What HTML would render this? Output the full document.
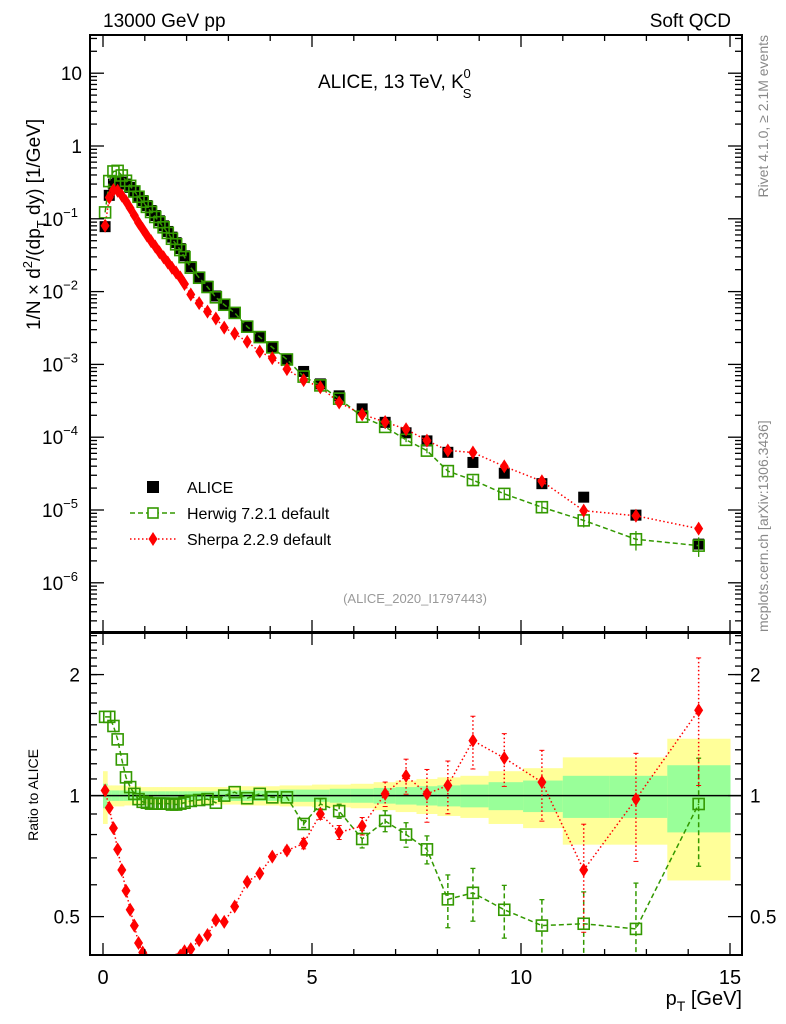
<!DOCTYPE html>
<html><head><meta charset="utf-8"><style>
body{margin:0;background:#fff}
svg{display:block;font-family:"Liberation Sans",sans-serif}
</style></head><body>
<svg id="c" width="786" height="1024" viewBox="0 0 786 1024" xmlns="http://www.w3.org/2000/svg">
<defs>
<clipPath id="ct"><rect x="90" y="35" width="652" height="597"/></clipPath>
<clipPath id="cb"><rect x="90" y="633" width="652" height="322"/></clipPath>
</defs>
<rect width="786" height="1024" fill="#fff"/>
<g id="bands" clip-path="url(#cb)"></g>
<g id="grid"></g>
<g id="topMarks" clip-path="url(#ct)"></g>
<g id="botMarks" clip-path="url(#cb)"></g>
<rect x="90" y="35" width="652" height="597" fill="none" stroke="#000" stroke-width="2"/>
<rect x="90" y="633" width="652" height="322" fill="none" stroke="#000" stroke-width="2"/>
<g id="axes"></g>
<text x="103" y="27" font-size="19">13000 GeV pp</text>
<text x="731" y="27" font-size="19" text-anchor="end">Soft QCD</text>
<text x="318" y="88" font-size="19">ALICE, 13 TeV, K<tspan font-size="13" dy="10" dx="-1">S</tspan><tspan font-size="13" dy="-20" dx="-8">0</tspan></text>
<text x="415" y="603" font-size="13" fill="#999" text-anchor="middle">(ALICE_2020_I1797443)</text>
<text transform="translate(768,35) rotate(-90)" font-size="14" fill="#888" text-anchor="end">Rivet 4.1.0, ≥ 2.1M events</text>
<text transform="translate(768,632) rotate(-90)" font-size="14" fill="#888">mcplots.cern.ch [arXiv:1306.3436]</text>
<text transform="translate(40,330) rotate(-90)" font-size="19">1/N × d<tspan font-size="13" dy="-8">2</tspan><tspan dy="8">/(dp</tspan><tspan font-size="13" dy="6">T</tspan><tspan dy="-6"> dy) [1/GeV]</tspan></text>
<text transform="translate(38,795) rotate(-90)" font-size="14" text-anchor="middle">Ratio to ALICE</text>
<text x="742" y="1005" font-size="20" text-anchor="end">p<tspan font-size="14" dy="6">T</tspan><tspan dy="-6"> [GeV]</tspan></text>
<g>
<rect x="147" y="481" width="12" height="12" fill="#000"/>
<text x="187" y="493" font-size="16">ALICE</text>
<line x1="130" y1="513" x2="177" y2="513" stroke="#339900" stroke-width="1.5" stroke-dasharray="5,3"/>
<rect x="148" y="508" width="10" height="10" fill="#fff" stroke="#339900" stroke-width="1.6"/>
<text x="187" y="519" font-size="16">Herwig 7.2.1 default</text>
<line x1="130" y1="539" x2="177" y2="539" stroke="#f00" stroke-width="1.5" stroke-dasharray="1.5,2.5"/>
<path d="M153,532 L157.5,539 L153,546 L148.5,539 Z" fill="#f00"/>
<text x="187" y="545" font-size="16">Sherpa 2.2.9 default</text>
</g>
</svg>
<script>
const pT=[0.05,0.15,0.25,0.35,0.45,0.55,0.65,0.75,0.85,0.95,1.05,1.15,1.25,1.35,1.45,1.55,1.65,1.75,1.85,1.95,2.1,2.3,2.5,2.7,2.9,3.15,3.45,3.75,4.05,4.4,4.8,5.2,5.65,6.2,6.75,7.25,7.75,8.25,8.85,9.6,10.5,11.5,12.75,14.25];
const alice=[0.078,0.21,0.30,0.33,0.32,0.30,0.27,0.235,0.205,0.178,0.152,0.130,0.111,0.094,0.080,0.067,0.056,0.047,0.039,0.031,0.022,0.0159,0.0118,0.0087,0.0066,0.0050,0.00335,0.00235,0.00173,0.00118,0.00080,0.00054,0.00037,0.000245,0.00016,0.000115,0.000089,0.000062,0.000045,0.000032,0.000023,0.000015,0.0000085,0.0000034];
const herwigRatio=[1.57,1.57,1.49,1.38,1.23,1.11,1.05,1.01,0.98,0.965,0.96,0.955,0.955,0.955,0.955,0.955,0.95,0.95,0.955,0.96,0.97,0.975,0.98,0.96,1.0,1.02,0.985,1.01,0.99,0.99,0.85,0.953,0.915,0.78,0.865,0.80,0.735,0.552,0.573,0.52,0.475,0.48,0.466,0.953];
const sherpaRatio=[1.03,0.933,0.83,0.735,0.653,0.58,0.52,0.475,0.43,0.407,0.39,0.38,0.375,0.37,0.37,0.375,0.38,0.39,0.40,0.41,0.415,0.437,0.45,0.49,0.485,0.53,0.61,0.64,0.705,0.73,0.76,0.90,0.81,0.84,1.01,1.12,1.01,1.06,1.37,1.24,1.08,0.653,0.98,1.63];
const herwigErr=[0,0,0,0,0,0,0,0,0,0,0,0,0,0,0,0,0,0,0,0,0,0,0,0,0,0,0,0,0,0,0.02,0.03,0.04,0.05,0.06,0.07,0.08,0.15,0.15,0.15,0.16,0.2,0.3,0.3];
const sherpaErr=[0,0,0,0,0,0,0,0,0,0,0,0,0,0,0,0,0,0,0,0,0,0,0,0,0,0,0,0,0,0.02,0.03,0.03,0.04,0.05,0.07,0.1,0.15,0.15,0.15,0.15,0.2,0.3,0.3,0.35];
const yellowErr=[0.15,0.06,0.06,0.06,0.06,0.055,0.055,0.055,0.055,0.05,0.05,0.05,0.05,0.05,0.05,0.05,0.05,0.05,0.05,0.05,0.05,0.05,0.05,0.05,0.05,0.05,0.055,0.055,0.055,0.06,0.06,0.065,0.065,0.07,0.08,0.09,0.1,0.11,0.12,0.15,0.17,0.245,0.245,0.385];
const greenErr=[0.07,0.03,0.03,0.03,0.03,0.03,0.03,0.03,0.03,0.025,0.025,0.025,0.025,0.025,0.025,0.025,0.025,0.025,0.025,0.025,0.025,0.025,0.025,0.025,0.03,0.03,0.03,0.03,0.03,0.035,0.035,0.035,0.04,0.04,0.045,0.05,0.055,0.06,0.065,0.08,0.09,0.12,0.12,0.19];
const xTicks=[0,5,10,15];
const rTicks=[0.5,1,2];
const rTickLabels=["0.5","1","2"];

const NS="http://www.w3.org/2000/svg";
const X=p=>103+41.8*p;
const YT=v=>146-72.8*Math.log10(v);
const YR=r=>795.6-402*Math.log10(r);
function el(tag,attrs,parent){const e=document.createElementNS(NS,tag);for(const k in attrs)e.setAttribute(k,attrs[k]);parent.appendChild(e);return e;}
const bands=document.getElementById('bands'),axes=document.getElementById('axes'),top_=document.getElementById('topMarks'),bot=document.getElementById('botMarks');

for(let i=0;i<pT.length;i++){
  const lo=i==0?0:(pT[i-1]+pT[i])/2, hi=i==pT.length-1?15:(pT[i]+pT[i+1])/2;
  const y=el('rect',{x:X(lo),y:YR(1+yellowErr[i]),width:X(hi)-X(lo)+0.5,height:YR(1-yellowErr[i])-YR(1+yellowErr[i]),fill:'#ffff99'},bands);
  
  
  const g=el('rect',{x:X(lo),y:YR(1+greenErr[i]),width:X(hi)-X(lo)+0.5,height:YR(1-greenErr[i])-YR(1+greenErr[i]),fill:'#99ff99'},bands);
  
  
}
const one=el('line',{x1:90,x2:742,y1:YR(1),y2:YR(1),stroke:'#000','stroke-width':1.5},bands);



function tick(x1,y1,x2,y2){el('line',{x1,y1,x2,y2,stroke:'#000','stroke-width':1.3},axes);}
for(let p=0;p<=15;p+=1){const big=p%5==0,L=big?12:6,x=X(p);
  tick(x,632,x,632-L);tick(x,35,x,35+L);tick(x,955,x,955-L);tick(x,633,x,633+L);}
xTicks.forEach(p=>{const t=el('text',{x:X(p),y:984,'font-size':20,'text-anchor':'middle'},axes);t.textContent=String(p);
  
  });
for(let d=-7;d<=2;d++){for(let m=1;m<10;m++){const v=m*Math.pow(10,d),y=YT(v);if(y<36||y>631)continue;
  const L=m==1?14:7;tick(90,y,90+L,y);tick(742,y,742-L,y);}}
const decs=[1,0,-1,-2,-3,-4,-5,-6];
decs.forEach(d=>{const y=YT(Math.pow(10,d));const t=el('text',{x:82,y:y+7,'font-size':19,'text-anchor':'end'},axes);
  
  
  if(d==1)t.textContent='10';else if(d==0)t.textContent='1';
  else{t.textContent='10';const s=el('tspan',{dy:-9,'font-size':13},t);s.textContent='−'+(-d);t.setAttribute('x',78);}});
[0.4,0.5,0.6,0.7,0.8,0.9,1,2].forEach(r=>{const y=YR(r);if(y>954)return;const L=(r==0.5||r==1||r==2)?14:7;tick(90,y,90+L,y);tick(742,y,742-L,y);});
for(let r=1.1;r<2.55;r+=0.1){const y=YR(r);if(y<634)break;tick(90,y,97,y);tick(742,y,735,y);}
rTicks.forEach((r,i)=>{const y=YR(r);
  const a=el('text',{x:80,y:y+7,'font-size':19,'text-anchor':'end'},axes);a.textContent=rTickLabels[i];
  
  
  const b=el('text',{x:750,y:y+7,'font-size':19},axes);b.textContent=rTickLabels[i];
  
  });

function sq(parent,x,y,filled,name){const r=el('rect',{x:x-5.5,y:y-5.5,width:11,height:11,fill:filled?'#000':'#fff','fill-opacity':filled?1:0,stroke:filled?'none':'#339900','stroke-width':1.6},parent);
  
  }
function dia(parent,x,y,name){const d=el('path',{d:`M${x},${y-7} L${x+4.5},${y} L${x},${y+7} L${x-4.5},${y} Z`,fill:'#f00'},parent);
  
  }
function poly(parent,pts,color,dash,name){const l=el('polyline',{points:pts.map(p=>p.join(',')).join(' '),fill:'none',stroke:color,'stroke-width':1.5,'stroke-dasharray':dash},parent);
  
  }
const herwig=pT.map((p,i)=>alice[i]*herwigRatio[i]);
const sherpa=pT.map((p,i)=>alice[i]*sherpaRatio[i]);
pT.forEach((p,i)=>sq(top_,X(p),YT(alice[i]),true,'alice-point'));
poly(top_,pT.map((p,i)=>[X(p),YT(herwig[i])]),'#339900','5,3','herwig-line');
poly(top_,pT.map((p,i)=>[X(p),YT(sherpa[i])]),'#f00','1.5,2.5','sherpa-line');
pT.forEach((p,i)=>{if(herwigErr[i]>0.04){el('line',{x1:X(p),x2:X(p),y1:YT(herwig[i]*(1+herwigErr[i])),y2:YT(herwig[i]*(1-herwigErr[i])),stroke:'#339900','stroke-width':1.3},top_);}
  sq(top_,X(p),YT(herwig[i]),false,'herwig-point');});
pT.forEach((p,i)=>dia(top_,X(p),YT(sherpa[i]),'sherpa-point'));

poly(bot,pT.map((p,i)=>[X(p),YR(herwigRatio[i])]),'#339900','5,3','herwig-ratio-line');
poly(bot,pT.map((p,i)=>[X(p),YR(sherpaRatio[i])]),'#f00','1.5,2.5','sherpa-ratio-line');
pT.forEach((p,i)=>{const x=X(p);
  if(herwigErr[i]>0){const e=herwigErr[i]*herwigRatio[i];const y1=YR(herwigRatio[i]+e),y2=YR(Math.max(herwigRatio[i]-e,0.3));
    el('line',{x1:x,x2:x,y1,y2,stroke:'#339900','stroke-width':1.5,'stroke-dasharray':'5,3'},bot);
    el('line',{x1:x-2.5,x2:x+2.5,y1,y2:y1,stroke:'#339900','stroke-width':1.3},bot);el('line',{x1:x-2.5,x2:x+2.5,y1:y2,y2,stroke:'#339900','stroke-width':1.3},bot);}
  if(sherpaErr[i]>0){const e=sherpaErr[i]*sherpaRatio[i];const y1=YR(sherpaRatio[i]+e),y2=YR(Math.max(sherpaRatio[i]-e,0.3));
    el('line',{x1:x,x2:x,y1,y2,stroke:'#f00','stroke-width':1.5,'stroke-dasharray':'1.5,2.5'},bot);
    el('line',{x1:x-2.5,x2:x+2.5,y1,y2:y1,stroke:'#f00','stroke-width':1},bot);el('line',{x1:x-2.5,x2:x+2.5,y1:y2,y2,stroke:'#f00','stroke-width':1},bot);}
});
pT.forEach((p,i)=>sq(bot,X(p),YR(herwigRatio[i]),false,'herwig-ratio-point'));
pT.forEach((p,i)=>dia(bot,X(p),YR(sherpaRatio[i]),'sherpa-ratio-point'));
</script>
</body></html>
